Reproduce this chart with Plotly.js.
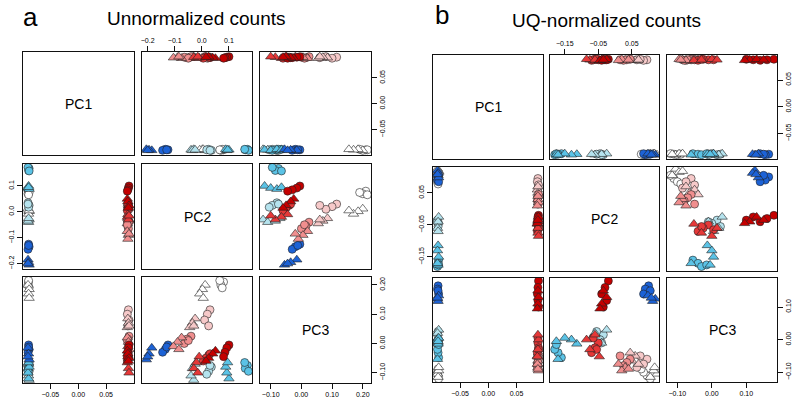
<!DOCTYPE html>
<html><head><meta charset="utf-8">
<script src="https://cdn.plot.ly/plotly-3.0.1.min.js"></script>
<style>html,body{margin:0;padding:0;background:#fff}#chart{width:800px;height:402px}</style>
</head><body><div id="chart"></div>
<script>
// Groups: colour index (0 dark blue .. 7 dark red) and shape ('o' circle, 't' triangle)
const groupColor = [0,0,1,1,2,2,3,3,4,4,5,5,6,6,7,7];
const groupShape = ['o','t','o','t','o','t','o','t','o','t','o','t','o','t','o','t'];
const drawOrder = [6,7,4,5,2,3,0,1,8,9,10,11,12,13,14,15];
const palette = ['#1c62d6','#5bc3e6','#b5e3ee','#ffffff','#f6c9c9','#f08e8e','#e63838','#c40000'];
const pcNames = ['PC1','PC2','PC3'];
const panelTitles = ['Unnormalized counts','UQ-normalized counts'];
const panelLetters = ['a','b'];

// Panel a: principal component scores per group
const pc1A = [[-0.089,-0.088,-0.090,-0.089],[-0.090,-0.089,-0.088,-0.090],[-0.088,-0.089,-0.090,-0.088],[-0.089,-0.090,-0.088,-0.089],
              [-0.090,-0.088,-0.089,-0.090],[-0.088,-0.089,-0.090,-0.089],[-0.089,-0.090,-0.088,-0.089],[-0.090,-0.088,-0.089,-0.088],
              [0.090,0.088,0.091,0.089],[0.089,0.090,0.088,0.091],[0.091,0.089,0.090,0.088],[0.088,0.090,0.089,0.091],
              [0.090,0.091,0.088,0.089],[0.089,0.088,0.090,0.091],[0.091,0.090,0.089,0.088],[0.088,0.089,0.091,0.090]];
const pc2A = [[-0.125,-0.135,-0.145,-0.130],[-0.185,-0.195,-0.205,-0.200],[0.168,0.160,0.172,0.158],[0.100,0.092,0.088,0.095],
              [0.035,0.025,0.018,0.030],[-0.030,-0.040,-0.035,-0.025],[0.080,0.070,0.075,0.066],[0.012,0.002,-0.008,0.005],
              [0.030,0.020,0.010,0.025],[-0.025,-0.035,-0.045,-0.030],[-0.040,-0.055,-0.065,-0.050],[-0.075,-0.090,-0.105,-0.085],
              [0.025,0.015,0.005,0.030],[-0.010,-0.020,-0.030,-0.015],[0.100,0.092,0.085,0.080],[0.050,0.040,0.025,0.015]];
const pc3A = [[-0.005,-0.020,-0.030,-0.012],[-0.015,-0.035,-0.055,-0.045],[-0.075,-0.085,-0.095,-0.065],[-0.120,-0.100,-0.080,-0.065],
              [-0.080,-0.095,-0.105,-0.075],[-0.125,-0.110,-0.085,-0.070],[0.210,0.200,0.190,0.215],[0.200,0.185,0.170,0.155],
              [0.115,0.100,0.080,0.060],[0.085,0.070,0.055,0.060],[0.025,0.015,0.000,0.010],[0.020,0.005,-0.010,-0.020],
              [-0.040,-0.050,-0.060,-0.035],[-0.045,-0.065,-0.085,-0.100],[-0.005,-0.015,-0.030,-0.045],[-0.025,-0.035,-0.050,-0.060]];

// Panel b
const pc1B = [[-0.089,-0.090,-0.088,-0.089],[-0.090,-0.089,-0.088,-0.090],[-0.088,-0.089,-0.090,-0.088],[-0.089,-0.090,-0.088,-0.089,-0.090],
              [-0.090,-0.088,-0.089,-0.090],[-0.088,-0.089,-0.090,-0.089],[-0.089,-0.090,-0.088,-0.089],[-0.090,-0.088,-0.089,-0.088],
              [0.088,0.087,0.089,0.088],[0.087,0.088,0.089,0.088],[0.089,0.088,0.087,0.088],[0.088,0.089,0.087,0.088],
              [0.088,0.089,0.087,0.088,0.089],[0.087,0.088,0.089,0.088],[0.089,0.088,0.087,0.088,0.089],[0.088,0.087,0.089,0.088]];
const pc2B = [[0.100,0.090,0.085,0.105],[0.120,0.112,0.098,0.108],[-0.160,-0.170,-0.180,-0.175],[-0.114,-0.130,-0.150,-0.175,-0.170],
              [-0.035,-0.045,-0.055,-0.040],[-0.025,-0.040,-0.060,-0.070],[0.095,0.085,0.105,0.078],[0.125,0.115,0.105,0.118],
              [0.095,0.085,0.075,0.065],[0.060,0.050,0.045,0.070],[0.045,0.035,0.025,0.015],[0.030,0.020,0.010,0.040],
              [-0.050,-0.060,-0.070,-0.065,-0.055],[-0.047,-0.075,-0.085,-0.060],[-0.020,-0.030,-0.040,-0.025,-0.035],[-0.040,-0.045,-0.025,-0.035]];
const pc3B = [[0.165,0.155,0.140,0.150],[0.125,0.118,0.135,0.128],[-0.055,-0.040,-0.030,-0.015],[-0.013,0.000,0.005,-0.005,-0.060],
              [0.015,0.000,0.025,-0.010],[0.030,-0.010,0.020,0.005],[-0.110,-0.100,-0.120,-0.090],[-0.105,-0.095,-0.115,-0.085],
              [-0.060,-0.075,-0.050,-0.085],[-0.050,-0.065,-0.040,-0.075],[-0.060,-0.070,-0.080,-0.050],[-0.085,-0.095,-0.075,-0.090],
              [-0.010,-0.025,-0.040,0.005,-0.030],[-0.052,-0.030,0.000,0.015],[0.180,0.160,0.140,0.120,0.100],[0.110,0.095,0.130,0.150]];

// Axis ranges and tick labels per PC
const rangesA = [[-0.099,0.100],[-0.221,0.185],[-0.135,0.227]];
const rangesB = [[-0.098,0.097],[-0.194,0.131],[-0.130,0.189]];
const ticksA = [[-0.05,0,0.05],[-0.2,-0.1,0,0.1],[-0.1,0,0.1,0.2]];
const ticksB = [[-0.05,0,0.05],[-0.15,-0.05,0.05],[-0.1,0,0.1]];
const fmtA = ['.2f','.1f','.2f'];
const fmtB = ['.2f','.2f','.2f'];

// ---- layout geometry (pixels) ----
const W = 800, H = 402;
const colsPx = [[[23,134],[142,252],[260,371]], [[433,543],[550,659],[667,777]]];
const rowsPx = [[[52,155],[164,269],[277,383]], [[55,159],[167,271],[278,382]]];
const FONT = 'Liberation Sans, Arial, Helvetica, sans-serif';

const panels = [
  {pcs:[pc1A,pc2A,pc3A], ranges:rangesA, ticks:ticksA, fmt:fmtA},
  {pcs:[pc1B,pc2B,pc3B], ranges:rangesB, ticks:ticksB, fmt:fmtB}
];

const ordered = g => drawOrder.map(i=>g[i]);
const flat = g => ordered(g).flat();
const sampleColors = pcs => drawOrder.flatMap(i=>pcs[i].map(()=>palette[groupColor[i]]));
const sampleSymbols = pcs => drawOrder.flatMap(i=>pcs[i].map(()=>groupShape[i]==='o'?'circle':'triangle-up'));
const sampleSizes = pcs => drawOrder.flatMap(i=>pcs[i].map(()=>groupShape[i]==='o'?8:9));

const data = [];
const layout = {
  width:W, height:H, margin:{l:0,r:0,t:0,b:0}, showlegend:false,
  paper_bgcolor:'#fff', plot_bgcolor:'#fff',
  font:{family:FONT, color:'#000'},
  annotations:[]
};

panels.forEach((P,p)=>{
  for(let r=0;r<3;r++){
    for(let c=0;c<3;c++){
      const k = p*9 + r*3 + c + 1;
      const xid = k===1?'x':'x'+k, yid = k===1?'y':'y'+k;
      const xk = k===1?'xaxis':'xaxis'+k, yk = k===1?'yaxis':'yaxis'+k;
      const cp = colsPx[p][c], rp = rowsPx[p][r];
      const base = {showline:true, mirror:true, linecolor:'#111', linewidth:1,
        showgrid:false, zeroline:false, ticks:'', showticklabels:false, fixedrange:true};
      const xa = Object.assign({}, base, {domain:[cp[0]/W, cp[1]/W], anchor:yid, range:P.ranges[c]});
      const ya = Object.assign({}, base, {domain:[1-rp[1]/H, 1-rp[0]/H], anchor:xid, range:P.ranges[r]});
      const tickStyle = {ticks:'outside', ticklen:5, tickwidth:1, tickcolor:'#111', showticklabels:true,
        tickfont:{size:7, family:FONT, color:'#000'}};
      if((r===0 && c===1)){ Object.assign(xa, tickStyle, {side:'top', tickvals:P.ticks[c], tickformat:P.fmt[c]}); }
      if((r===2 && (c===0 || c===2))){ Object.assign(xa, tickStyle, {side:'bottom', tickvals:P.ticks[c], tickformat:P.fmt[c]}); }
      if(r===1 && c===0){ Object.assign(ya, tickStyle, {side:'left', tickangle:-90, tickvals:P.ticks[r], tickformat:P.fmt[r]}); }
      if((r===0 || r===2) && c===2){ Object.assign(ya, tickStyle, {side:'right', tickangle:-90, tickvals:P.ticks[r], tickformat:P.fmt[r]}); }
      layout[xk] = xa; layout[yk] = ya;
      if(r===c){
        data.push({type:'scatter', mode:'markers', x:[], y:[], xaxis:xid, yaxis:yid, hoverinfo:'skip'});
        layout.annotations.push({xref:'paper', yref:'paper', x:(cp[0]+cp[1])/2/W, y:1-(rp[0]+rp[1])/2/H,
          text:pcNames[r], showarrow:false, xanchor:'center', yanchor:'middle', font:{size:14, family:FONT, color:'#000'}});
      } else {
        data.push({type:'scatter', mode:'markers', x:flat(P.pcs[c]), y:flat(P.pcs[r]), xaxis:xid, yaxis:yid,
          marker:{color:sampleColors(P.pcs[c]), symbol:sampleSymbols(P.pcs[c]), size:sampleSizes(P.pcs[c]),
            opacity:1, line:{color:'#222', width:0.6}}, hoverinfo:'skip'});
      }
    }
  }
});

// panel letters and titles
layout.annotations.push({xref:'paper', yref:'paper', x:21/W, y:1-17/H, text:panelLetters[0], showarrow:false,
  xanchor:'left', yanchor:'middle', font:{size:26, family:FONT, color:'#000'}});
layout.annotations.push({xref:'paper', yref:'paper', x:196/W, y:1-19/H, text:panelTitles[0], showarrow:false,
  xanchor:'center', yanchor:'middle', font:{size:19, family:FONT, color:'#000'}});
layout.annotations.push({xref:'paper', yref:'paper', x:433/W, y:1-15/H, text:panelLetters[1], showarrow:false,
  xanchor:'left', yanchor:'middle', font:{size:26, family:FONT, color:'#000'}});
layout.annotations.push({xref:'paper', yref:'paper', x:606/W, y:1-20/H, text:panelTitles[1], showarrow:false,
  xanchor:'center', yanchor:'middle', font:{size:19, family:FONT, color:'#000'}});

Plotly.newPlot('chart', data, layout, {displayModeBar:false, staticPlot:true});
</script></body></html>
